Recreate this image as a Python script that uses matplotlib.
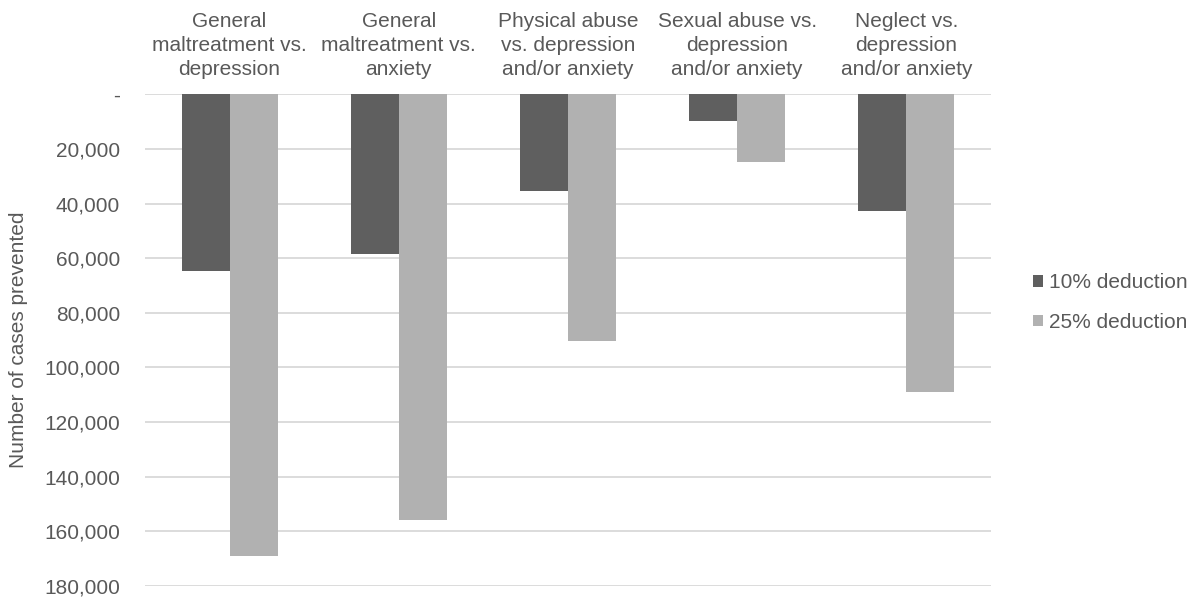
import numpy as np
import matplotlib.pyplot as plt
from matplotlib.ticker import FuncFormatter

plt.rcParams['font.family'] = ['Liberation Sans', 'DejaVu Sans']

categories = ['General\nmaltreatment vs.\ndepression',
              'General\nmaltreatment vs.\nanxiety',
              'Physical abuse\nvs. depression\nand/or anxiety',
              'Sexual abuse vs.\ndepression\nand/or anxiety',
              'Neglect vs.\ndepression\nand/or anxiety']
deduction_10 = [64700, 58600, 35500, 9700, 42900]
deduction_25 = [169100, 155900, 90200, 24900, 108900]
yticks = np.arange(0, 180001, 20000)

txt = '#595959'
fs = 15
fig = plt.figure(figsize=(11.98, 5.98), dpi=100)
ax = fig.add_axes([0.1210, 0.0201, 0.7062, 0.8222])

x = np.arange(len(categories))
w = 0.284
ax.bar(x - w/2, deduction_10, w, color='#5f5f5f', label='10% deduction', zorder=2)
ax.bar(x + w/2, deduction_25, w, color='#b1b1b1', label='25% deduction', zorder=2)

ax.set_xlim(-0.5, len(categories) - 0.5)
ax.set_ylim(180000, 0)
ax.set_yticks(yticks)
ax.yaxis.set_major_formatter(FuncFormatter(lambda v, p: '-' if v == 0 else f'{int(v):,}'))
ax.grid(axis='y', color='#d9d9d9', linewidth=1.3, zorder=0)

ax.xaxis.tick_top()
ax.set_xticks(x)
ax.set_xticklabels(categories, fontsize=fs, color=txt, linespacing=1.32)
ax.tick_params(axis='x', length=0, pad=11)
ax.tick_params(axis='y', length=0, pad=18, labelsize=fs, labelcolor=txt)
for s in ax.spines.values():
    s.set_visible(False)

ax.set_ylabel('Number of cases prevented', fontsize=fs, color=txt, va='center')
ax.yaxis.set_label_coords(-0.150, 0.5)

fig.legend(loc='center left', bbox_to_anchor=(0.862, 0.494), frameon=False,
           fontsize=fs, labelcolor=txt, handlelength=0.48, handleheight=0.48,
           handletextpad=0.3, labelspacing=1.0, borderpad=0, borderaxespad=0)

fig.savefig('out.png', dpi=100)
